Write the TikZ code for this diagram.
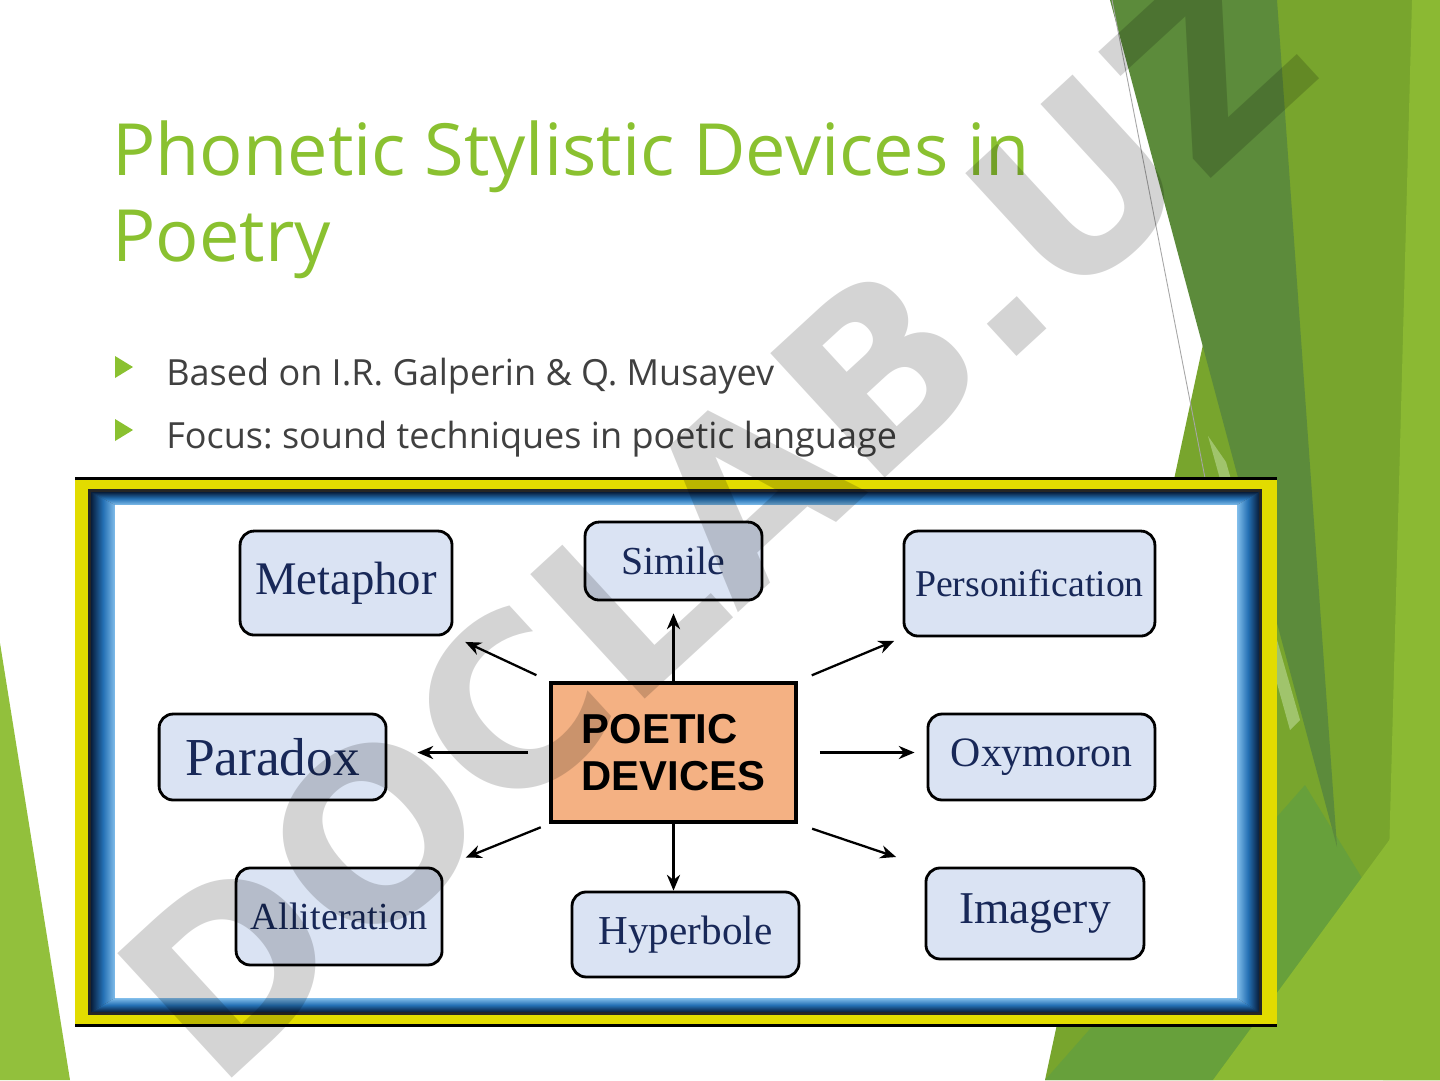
\documentclass[tikz,border=0pt]{standalone}
\usepackage{fontspec}
\setmainfont{Open Sans}
\newfontfamily\devfont{Liberation Serif}
\newfontfamily\headfont{Liberation Sans}
\newfontfamily\markfont{DejaVu Sans}
\usetikzlibrary{arrows.meta}
\usetikzlibrary{positioning}
\frenchspacing

\definecolor{titlegreen}{RGB}{138,193,48}
\definecolor{bodygray}{RGB}{64,64,64}
\definecolor{boxfill}{RGB}{218,227,243}
\definecolor{navytext}{RGB}{24,40,88}
\definecolor{poeticfill}{RGB}{244,177,131}
\definecolor{frameyellow}{RGB}{226,220,0}
\definecolor{framenavy}{RGB}{8,30,60}
\definecolor{framemid}{RGB}{36,112,180}
\definecolor{framelight}{RGB}{130,190,235}
\definecolor{leafdark}{RGB}{92,139,59}
\definecolor{leafmid}{RGB}{120,165,45}
\definecolor{leaflight}{RGB}{139,185,51}
\definecolor{leafbottom}{RGB}{103,160,59}
\definecolor{leafpale}{RGB}{160,196,108}
\definecolor{leafleft}{RGB}{146,192,60}

\newcommand{\devsize}[1]{\devfont\fontsize{#1}{#1}\selectfont}

\begin{document}
\begin{tikzpicture}[
        x=0.02cm, y=-0.02cm,
        on grid,
        >={Stealth[length=9pt,width=7.5pt]},
        device/.style={draw, line width=1.6pt, rounded corners=8pt, fill=boxfill, text=navytext, inner sep=0pt},
        arr/.style={->, line width=1.3pt}
    ]

    % Page
    \useasboundingbox (0,0) rectangle (1440,1080);
    \fill[white] (0,0) rectangle (1440,1080);

    % Green leaves on the right and left
    \fill[leafmid] (1277,0) -- (1440,0) -- (1440,1080) -- (1045,1080) -- cycle;
    \fill[leaflight] (1412,0) -- (1440,0) -- (1440,1080) -- (1383,1080) -- cycle;
    \fill[leafbottom] (1045,1080) -- (1305,785) -- (1362,878) -- (1213,1080) -- cycle;
    \fill[leaflight] (1213,1080) -- (1440,771) -- (1440,1080) -- cycle;
    \fill[leafpale] (1208,436) -- (1226,462) -- (1300,720) -- (1290,730) -- cycle;
    \fill[leafdark] (1110,0) -- (1277,0) -- (1337,847) -- cycle;
    \draw[gray!70, line width=0.5pt] (1112,0) -- (1205,478);
    \fill[leafleft] (0,643) -- (70,1080) -- (0,1080) -- cycle;

    % Title and bullets
    \node[anchor=north west, inner sep=0pt, align=left, text=titlegreen,
          font=\fontsize{41}{49.3}\selectfont] (title) at (112,120)
          {Phonetic Stylistic Devices in\\Poetry};
    \fill[titlegreen] (115,356) -- (133,367) -- (115,378) -- cycle;
    \fill[titlegreen] (115,419) -- (133,430) -- (115,441) -- cycle;
    \node[anchor=base west, inner sep=0pt, text=bodygray, font=\fontsize{20.5}{24}\selectfont]
          (source) at (166,385) {Based on I.R. Galperin \& Q. Musayev};
    \node[anchor=base west, inner sep=0pt, text=bodygray, font=\fontsize{20.5}{24}\selectfont]
          (focus) at (166,448) {Focus: sound techniques in poetic language};

    % Picture frame
    \fill[frameyellow] (75,478) rectangle (1277,1025);
    \draw[line width=1.7pt] (75,478) -- (1277,478);
    \draw[line width=1.7pt] (75,1025) -- (1277,1025);
    \fill[black!85] (88,489) rectangle (1262,1015);
    \shade[top color=framenavy, bottom color=framelight, middle color=framemid]
        (91,492) -- (1259,492) -- (1237,505) -- (115,505) -- cycle;
    \shade[top color=framelight, bottom color=framenavy, middle color=framemid]
        (91,1012) -- (1259,1012) -- (1237,998) -- (115,998) -- cycle;
    \shade[left color=framenavy, right color=framelight, middle color=framemid]
        (91,492) -- (115,505) -- (115,998) -- (91,1012) -- cycle;
    \shade[left color=framelight, right color=framenavy, middle color=framemid]
        (1259,492) -- (1237,505) -- (1237,998) -- (1259,1012) -- cycle;
    \fill[white] (115,505) rectangle (1237,998);

    % Central node
    \node[draw, line width=2.2pt, fill=poeticfill, align=left,
          minimum width=4.9cm, minimum height=2.78cm,
          font=\headfont\bfseries\fontsize{23.8}{27}\selectfont] (poetic) at (673.5,752.5) {POETIC\\DEVICES};

    % Devices around it
    \node[device, minimum width=3.54cm, minimum height=1.56cm, font=\devsize{22.6},
          above=3.83cm of poetic] (simile) {Simile};
    \node[device, minimum width=4.24cm, minimum height=2.08cm, font=\devsize{26.6},
          above left=3.39cm and 6.55cm of poetic] (metaphor) {Metaphor};
    \node[device, minimum width=5.02cm, minimum height=2.1cm, font=\devsize{21.5},
          above right=3.38cm and 7.12cm of poetic] (personification) {Personification};
    \node[device, minimum width=4.54cm, minimum height=1.72cm, font=\devsize{30.4},
          below left=0.09cm and 8.02cm of poetic] (paradox) {Paradox};
    \node[device, minimum width=4.54cm, minimum height=1.72cm, font=\devsize{23.8},
          below right=0.09cm and 7.36cm of poetic] (oxymoron) {Oxymoron};
    \node[device, minimum width=4.12cm, minimum height=1.94cm, font=\devsize{21.8},
          below left=3.28cm and 6.69cm of poetic] (alliteration) {Alliteration};
    \node[device, minimum width=4.54cm, minimum height=1.7cm, font=\devsize{23.4},
          below right=3.64cm and 0.24cm of poetic] (hyperbole) {Hyperbole};
    \node[device, minimum width=4.36cm, minimum height=1.82cm, font=\devsize{25.9},
          below right=3.22cm and 7.23cm of poetic] (imagery) {Imagery};

    % Arrows from the centre
    \draw[arr, shorten <=0.28cm, shorten >=0.26cm] (poetic.north west) -- (metaphor.south east);
    \draw[arr, shorten >=0.24cm] (poetic.north) -- (simile.south);
    \draw[arr, shorten <=0.3cm, shorten >=0.18cm] (poetic.north east) -- (personification.south west);
    \draw[arr, shorten <=0.42cm, shorten >=0.6cm] (poetic.west) -- (poetic.west -| paradox.east);
    \draw[arr, shorten <=0.44cm, shorten >=0.24cm] (poetic.east) -- (poetic.east -| oxymoron.west);
    \draw[arr, shorten <=0.18cm, shorten >=0.48cm] (poetic.south west) -- (alliteration.north east);
    \draw[arr] (poetic.south) -- (poetic.south |- hyperbole.north);
    \draw[arr, shorten <=0.3cm, shorten >=0.6cm] (poetic.south east) -- (imagery.north west);

    % Watermark
    \node[rotate=42.6, text=black, text opacity=0.17,
          font=\markfont\bfseries\fontsize{132}{132}\selectfont] (watermark) at (715,520) {DOCLAB.UZ};

\end{tikzpicture}
\end{document}
